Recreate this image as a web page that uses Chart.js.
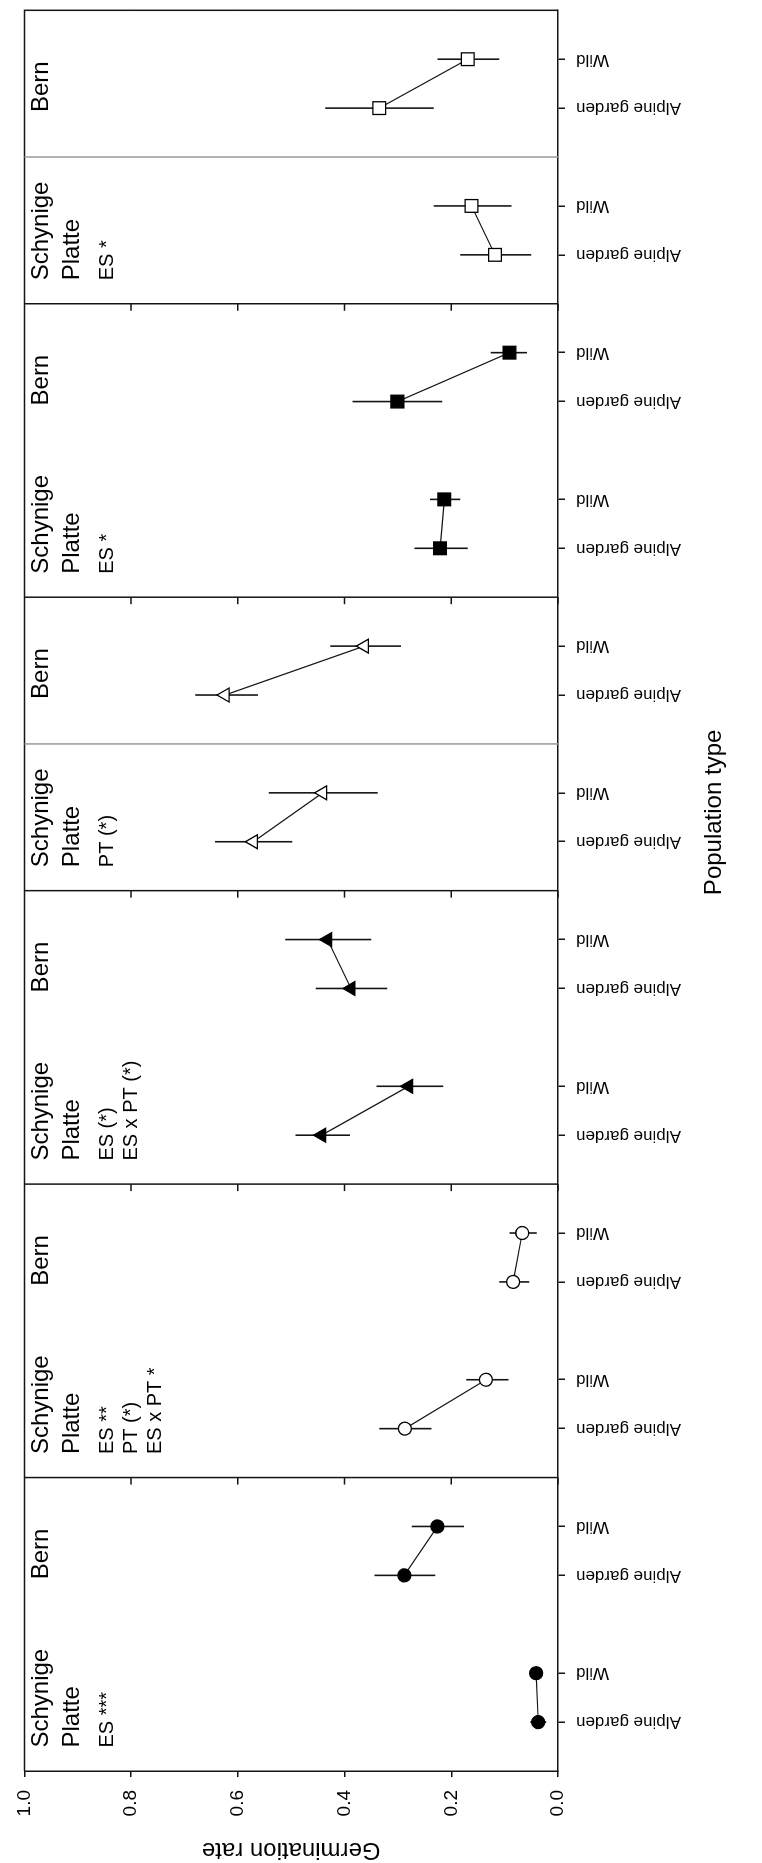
<!DOCTYPE html>
<html>
<head>
<meta charset="utf-8">
<script src="https://cdn.jsdelivr.net/npm/chart.js@4.4.1/dist/chart.umd.min.js"></script>
<style>
  html, body { margin: 0; padding: 0; background: #fff; }
  #page { position: relative; width: 762px; height: 1863px; overflow: hidden; }
  /* the figure is laid out wide and then turned a quarter left */
  #turn { position: absolute; left: 0; top: 0; width: 1863px; height: 762px;
          transform-origin: 0 0; transform: translateY(1863px) rotate(-90deg); }
</style>
</head>
<body>
<div id="page"><div id="turn"><canvas id="chart" width="1863" height="762"></canvas></div></div>
<script>
// --- Data ---
const populationTypes = ['Alpine garden', 'Wild'];
const sites = ['Schynige Platte', 'Bern'];
const rateTicks = [0, 0.2, 0.4, 0.6, 0.8, 1.0];

// one entry per panel (left to right), each [Alpine garden, Wild]
const schynigeMean = [[0.037, 0.041], [0.287, 0.135], [0.443, 0.280], [0.571, 0.441], [0.221, 0.213], [0.118, 0.162]];
const schynigeLow  = [[0.022, 0.035], [0.237, 0.093], [0.390, 0.215], [0.498, 0.338], [0.169, 0.183], [0.050, 0.087]];
const schynigeHigh = [[0.052, 0.047], [0.335, 0.172], [0.492, 0.340], [0.643, 0.542], [0.269, 0.240], [0.183, 0.233]];

const bernMean = [[0.288, 0.226], [0.084, 0.067], [0.388, 0.432], [0.624, 0.363], [0.301, 0.091], [0.335, 0.169]];
const bernLow  = [[0.230, 0.176], [0.054, 0.040], [0.320, 0.350], [0.562, 0.294], [0.217, 0.058], [0.233, 0.110]];
const bernHigh = [[0.344, 0.274], [0.110, 0.091], [0.454, 0.511], [0.680, 0.427], [0.385, 0.126], [0.436, 0.226]];

const schynigeNotes = [['ES ***'], ['ES **', 'PT (*)', 'ES x PT *'], ['ES (*)', 'ES x PT (*)'], ['PT (*)'], ['ES *'], ['ES *']];
const axisTitle = 'Population type';

// --- Styles ---
const FONT = 'Arial, "Liberation Sans", Helvetica, sans-serif';
const INK = '#141414';
const shapes = ['circle', 'circle', 'triangle', 'triangle', 'rect', 'rect'];
const filled = [true, false, true, false, true, false];
const radii = { circle: 6.5, triangle: 8, rect: 9 };
const grayDividers = [3, 5];   // panels with a visible line between the two sites
const SLOTS = 6;               // x units per panel

Chart.defaults.font.family = FONT;
Chart.defaults.color = '#000';

// --- Datasets ---
const datasets = [];
const tickValues = [];
const siteSeries = [[schynigeMean, schynigeLow, schynigeHigh], [bernMean, bernLow, bernHigh]];
for (let p = 0; p < shapes.length; p++) {
  siteSeries.forEach(([mean, low, high], s) => {
    const xs = populationTypes.map((_, t) => p * SLOTS + s * 3 + 1 + t);
    tickValues.push(...xs);
    datasets.push({
      data: xs.map((x, t) => ({ x, y: mean[p][t] })),
      borderColor: INK,
      borderWidth: 1.2,
      pointStyle: shapes[p],
      pointRadius: radii[shapes[p]],
      pointBackgroundColor: filled[p] ? '#000' : '#fff',
      pointBorderColor: '#000',
      pointBorderWidth: 1.3,
      order: 0
    });
    xs.forEach((x, t) => {
      datasets.push({
        data: [{ x, y: low[p][t] }, { x, y: high[p][t] }],
        borderColor: INK,
        borderWidth: 1.6,
        pointRadius: 0,
        order: 1
      });
    });
  });
}

// --- Panel frames, site labels, axis title ---
const panelFrame = {
  id: 'panelFrame',
  afterDraw(chart) {
    const { ctx, chartArea: a, scales: { x, y } } = chart;
    ctx.save();
    ctx.strokeStyle = INK;
    ctx.lineWidth = 1.5;
    ctx.beginPath();
    ctx.moveTo(a.left, a.top);
    ctx.lineTo(a.right, a.top);
    ctx.lineTo(a.right, a.bottom);
    for (let p = 1; p < shapes.length; p++) {
      const px = x.getPixelForValue(p * SLOTS);
      ctx.moveTo(px, a.top);
      ctx.lineTo(px, a.bottom);
      rateTicks.forEach(v => {
        const py = y.getPixelForValue(v);
        ctx.moveTo(px, py);
        ctx.lineTo(px - 7, py);
      });
    }
    ctx.stroke();

    ctx.strokeStyle = '#9a9a9a';
    ctx.beginPath();
    grayDividers.forEach(p => {
      const px = x.getPixelForValue(p * SLOTS + 3);
      ctx.moveTo(px, a.top);
      ctx.lineTo(px, a.bottom);
    });
    ctx.stroke();

    ctx.fillStyle = '#000';
    ctx.textAlign = 'left';
    ctx.textBaseline = 'alphabetic';
    for (let p = 0; p < shapes.length; p++) {
      const sx = x.getPixelForValue(p * SLOTS + 0.48);
      ctx.font = '24px ' + FONT;
      sites[0].split(' ').forEach((w, i) => ctx.fillText(w, sx, a.top + 24 + i * 31));
      ctx.fillText(sites[1], x.getPixelForValue(p * SLOTS + 3.92), a.top + 24);
      ctx.font = '20px ' + FONT;
      schynigeNotes[p].forEach((t, i) => ctx.fillText(t, sx, a.top + 89 + i * 24));
    }

    // x axis title sits a little right of the centre in the source figure
    ctx.font = '24px ' + FONT;
    ctx.textAlign = 'center';
    ctx.textBaseline = 'middle';
    ctx.fillText(axisTitle, x.getPixelForValue(shapes.length * SLOTS / 2 + 1.6), 714);
    ctx.restore();
  }
};

// --- Chart ---
new Chart(document.getElementById('chart'), {
  type: 'line',
  data: { datasets },
  plugins: [panelFrame],
  options: {
    responsive: false,
    animation: false,
    events: [],
    layout: { padding: { top: 21, right: 6, left: 0, bottom: 0 } },
    plugins: { legend: { display: false }, tooltip: { enabled: false } },
    scales: {
      x: {
        type: 'linear',
        min: 0,
        max: shapes.length * SLOTS,
        afterFit: s => { s.height = 204; },
        afterBuildTicks: s => { s.ticks = tickValues.map(value => ({ value })); },
        ticks: {
          autoSkip: false,
          minRotation: 90,
          maxRotation: 90,
          padding: 11,
          color: '#000',
          font: { size: 17 },
          callback: (v, i) => populationTypes[i % 2]
        },
        grid: { drawOnChartArea: false, drawTicks: true, tickLength: 7, color: INK, lineWidth: 1.5 },
        border: { display: true, color: INK, width: 1.5 },
        title: { display: false }
      },
      y: {
        min: 0,
        max: 1,
        afterFit: s => { s.width = 92; },
        afterBuildTicks: s => { s.ticks = rateTicks.map(value => ({ value })); },
        ticks: { padding: 13, color: '#000', font: { size: 19 }, callback: v => v.toFixed(1) },
        grid: { drawOnChartArea: false, drawTicks: true, tickLength: 6, color: INK, lineWidth: 1.5 },
        border: { display: true, color: INK, width: 1.5 },
        title: { display: true, text: 'Germination rate', color: '#000', font: { size: 24, lineHeight: 1 }, padding: { top: 1, bottom: 0 } }
      }
    }
  }
});
</script>
</body>
</html>
